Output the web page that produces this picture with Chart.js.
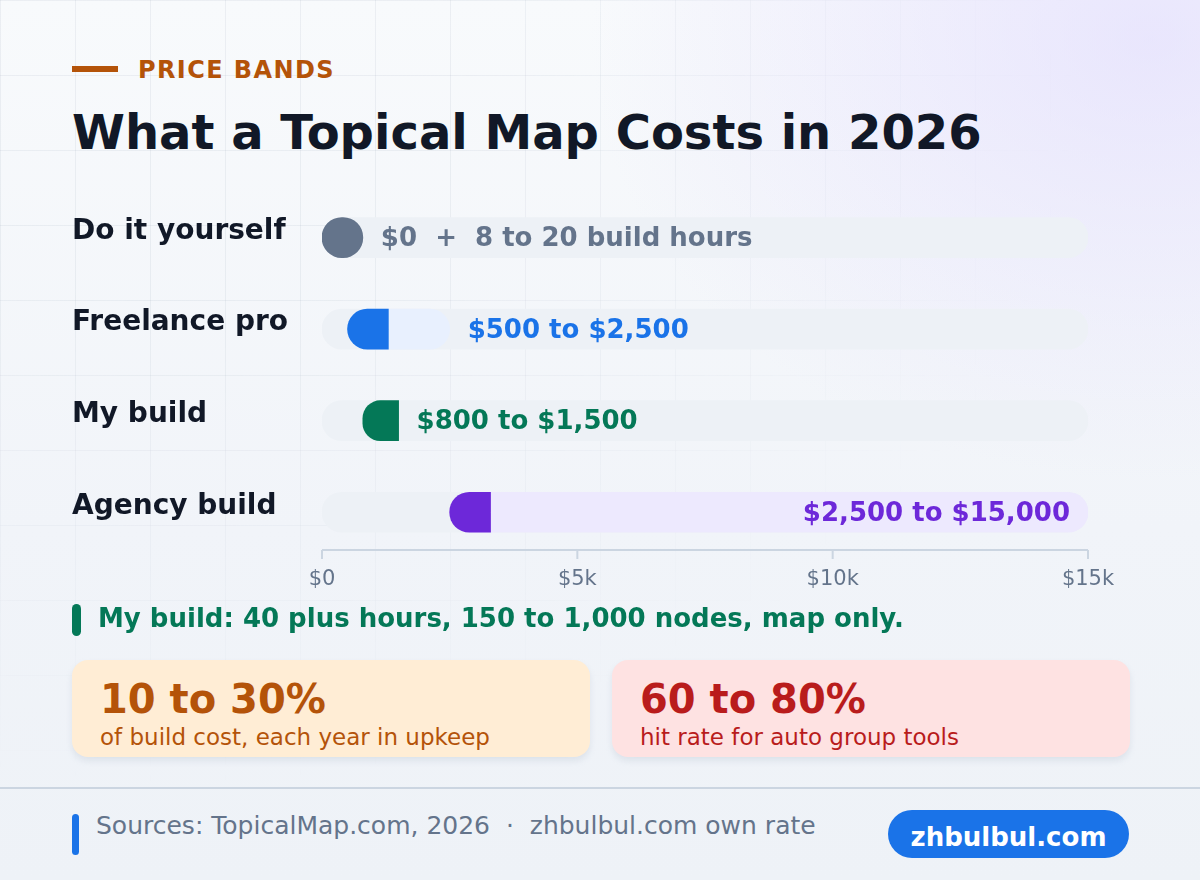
<!DOCTYPE html>
<html>
<head>
<meta charset="utf-8">
<title>What a Topical Map Costs in 2026</title>
<script src="https://cdn.jsdelivr.net/npm/chart.js@4.4.1/dist/chart.umd.min.js"></script>
<style>
  html, body { margin: 0; padding: 0; }
  body {
    width: 1200px; height: 880px; position: relative; overflow: hidden;
    font-family: "DejaVu Sans", sans-serif;
    background:
      radial-gradient(ellipse 560px 440px at 1150px 40px, rgba(221, 214, 254, 0.55), rgba(221, 214, 254, 0) 100%),
      linear-gradient(180deg, #f8fafc 0%, #f1f4f9 60%, #eef2f7 100%);
  }
  .grid {
    position: absolute; inset: 0;
    background-image:
      linear-gradient(to right, rgba(148, 163, 184, 0.13) 1px, transparent 1px),
      linear-gradient(to bottom, rgba(148, 163, 184, 0.13) 1px, transparent 1px);
    background-size: 75px 75px;
    -webkit-mask-image: radial-gradient(ellipse 900px 700px at 15% 10%, #000 30%, transparent 100%);
    mask-image: radial-gradient(ellipse 900px 700px at 15% 10%, #000 30%, transparent 100%);
  }
  .kicker-bar { position: absolute; left: 72px; top: 66px; width: 46px; height: 6px; background: #b45309; }
  .kicker { position: absolute; left: 138px; top: 55px; font-size: 24px; font-weight: bold; color: #b45309; letter-spacing: 1.4px; line-height: 30px; }
  h1 { position: absolute; left: 72px; top: 102px; margin: 0; font-size: 48px; line-height: 60px; font-weight: bold; color: #111827; }
  #chartBox { position: absolute; left: 0; top: 172px; width: 1200px; height: 436px; }
  .note-pill { position: absolute; left: 72px; top: 604px; width: 9px; height: 32px; border-radius: 5px; background: #047857; }
  .note { position: absolute; left: 98px; top: 603px; font-size: 26px; line-height: 30px; font-weight: bold; color: #047857; }
  .card { position: absolute; top: 660px; width: 518px; height: 97px; border-radius: 16px; box-shadow: 0 4px 6px rgba(148, 163, 184, 0.2); }
  .card .big { position: absolute; left: 28px; top: 16px; font-size: 40px; line-height: 46px; font-weight: bold; }
  .card .small { position: absolute; left: 28px; top: 64px; font-size: 23px; line-height: 26px; }
  .card.orange { left: 72px; background: #ffedd5; color: #b45309; }
  .card.red { left: 612px; background: #fee2e2; color: #b91c1c; }
  .divider { position: absolute; left: 0; top: 787px; width: 1200px; height: 2px; background: #cbd5e1; }
  .src-pill { position: absolute; left: 72px; top: 814px; width: 7px; height: 41px; border-radius: 4px; background: #1a73e8; }
  .sources { position: absolute; left: 96px; top: 810px; font-size: 25px; line-height: 32px; color: #64748b; white-space: pre; }
  .badge { position: absolute; left: 888px; top: 810px; width: 241px; height: 48px; border-radius: 24px; background: #1a73e8; color: #fff; font-size: 26px; font-weight: bold; line-height: 54px; text-align: center; }
</style>
</head>
<body>
<div class="grid"></div>
<div class="kicker-bar"></div>
<div class="kicker">PRICE BANDS</div>
<h1>What a Topical Map Costs in 2026</h1>
<div id="chartBox"><canvas id="priceChart"></canvas></div>
<div class="note-pill"></div>
<div class="note">My build: 40 plus hours, 150 to 1,000 nodes, map only.</div>
<div class="card orange"><div class="big">10 to 30%</div><div class="small">of build cost, each year in upkeep</div></div>
<div class="card red"><div class="big">60 to 80%</div><div class="small">hit rate for auto group tools</div></div>
<div class="divider"></div>
<div class="src-pill"></div>
<div class="sources">Sources: TopicalMap.com, 2026  ·  zhbulbul.com own rate</div>
<div class="badge">zhbulbul.com</div>

<script>
// price bands, in dollars
const categories = ['Do it yourself', 'Freelance pro', 'My build', 'Agency build'];
const lowValues = [0, 500, 800, 2500];
const highValues = [0, 2500, 1500, 15000];
const valueLabels = ['$0  +  8 to 20 build hours', '$500 to $2,500', '$800 to $1,500', '$2,500 to $15,000'];

const scaleMax = 15000;
const tickValues = [0, 5000, 10000, 15000];
const tickLabels = ['$0', '$5k', '$10k', '$15k'];

// start marker length, in dollars
const capSpan = 800;

const strongColors = ['#64748b', '#1a73e8', '#047857', '#6d28d9'];
const softColors = ['rgba(0,0,0,0)', '#e8f0fe', '#d1fae5', '#ede9fe'];
const trackColor = '#edf1f6';

const trackData = categories.map(() => [0, scaleMax]);
const rangeData = lowValues.map((lo, i) => highValues[i] > lo ? [lo, highValues[i]] : null);
const capData = lowValues.map((lo, i) => highValues[i] > lo ? [lo, Math.min(highValues[i], lo + capSpan)] : [lo, lo + capSpan]);

// axis line sits a little above the bottom of the last row slot
const axisLine = {
    id: 'axisLine',
    beforeDatasetsDraw(chart) {
        const { ctx, chartArea } = chart;
        const x = chart.scales.x;
        const y = chartArea.bottom - 8;
        ctx.save();
        ctx.strokeStyle = '#cbd5e1';
        ctx.lineWidth = 2;
        ctx.beginPath();
        ctx.moveTo(x.left, y);
        ctx.lineTo(x.right, y);
        tickValues.forEach(v => {
            const px = x.getPixelForValue(v);
            ctx.moveTo(px, y);
            ctx.lineTo(px, y + 9);
        });
        ctx.stroke();
        ctx.restore();
    }
};

// text next to each band
const bandLabels = {
    id: 'bandLabels',
    afterDatasetsDraw(chart) {
        const { ctx, chartArea } = chart;
        const x = chart.scales.x;
        const capMeta = chart.getDatasetMeta(2);
        ctx.save();
        ctx.font = 'bold 26px "DejaVu Sans"';
        ctx.textBaseline = 'middle';
        valueLabels.forEach((text, i) => {
            const bar = capMeta.data[i];
            const y = bar.y + 2;
            const end = Math.max(bar.x, x.getPixelForValue(highValues[i]));
            const w = ctx.measureText(text).width;
            ctx.fillStyle = strongColors[i];
            if (end + 18 + w > chartArea.right - 10) {
                ctx.textAlign = 'right';
                ctx.fillText(text, x.getPixelForValue(highValues[i]) - 18, y);
            } else {
                ctx.textAlign = 'left';
                ctx.fillText(text, end + 18, y);
            }
        });
        ctx.restore();
    }
};

new Chart(document.getElementById('priceChart').getContext('2d'), {
    type: 'bar',
    data: {
        labels: categories,
        datasets: [
            {
                label: 'track',
                data: trackData,
                backgroundColor: trackColor,
                borderRadius: 20,
                borderSkipped: false,
                order: 3
            },
            {
                label: 'range',
                data: rangeData,
                backgroundColor: softColors,
                borderRadius: 20,
                borderSkipped: false,
                order: 2
            },
            {
                label: 'start',
                data: capData,
                backgroundColor: strongColors,
                borderSkipped: false,
                borderRadius: (c) => highValues[c.dataIndex] > lowValues[c.dataIndex]
                    ? { topLeft: 20, bottomLeft: 20, topRight: 0, bottomRight: 0 }
                    : 20,
                order: 1
            }
        ]
    },
    options: {
        indexAxis: 'y',
        responsive: true,
        maintainAspectRatio: false,
        animation: false,
        datasets: {
            bar: { barThickness: 40, grouped: false }
        },
        layout: { padding: { left: 72, right: 112, top: 0, bottom: 0 } },
        plugins: {
            legend: { display: false },
            tooltip: { enabled: false }
        },
        scales: {
            x: {
                min: 0,
                max: scaleMax,
                grid: { display: false },
                border: { display: false },
                ticks: {
                    stepSize: 5000,
                    padding: 1,
                    color: '#64748b',
                    font: { family: 'DejaVu Sans', size: 21 },
                    callback: (v) => tickLabels[tickValues.indexOf(v)]
                },
                afterFit: (scale) => { scale.height = 50; }
            },
            y: {
                grid: { display: false },
                border: { display: false },
                ticks: {
                    crossAlign: 'far',
                    labelOffset: -6,
                    color: '#111827',
                    font: { family: 'DejaVu Sans', size: 28, weight: 'bold' }
                },
                afterFit: (scale) => { scale.width = 250; }
            }
        }
    },
    plugins: [axisLine, bandLabels]
});
</script>
</body>
</html>
